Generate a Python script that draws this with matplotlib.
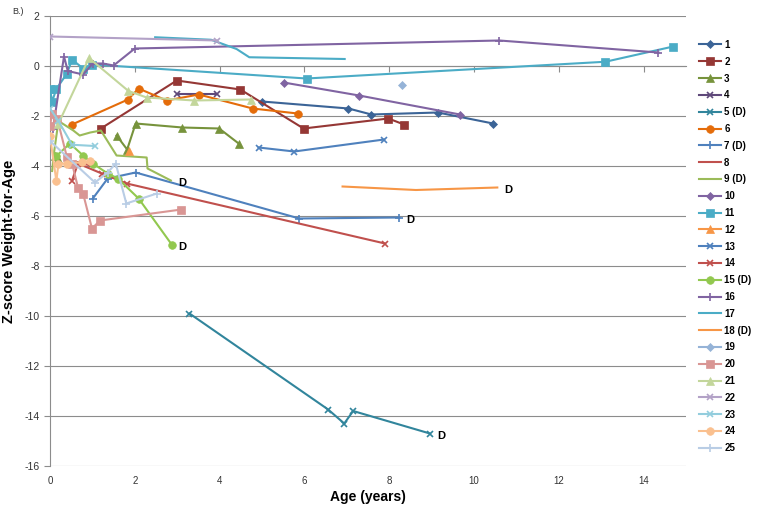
import numpy as np
import matplotlib.pyplot as plt

plt.rcParams['font.family'] = ['Liberation Sans', 'DejaVu Sans']
plt.rcParams['axes.unicode_minus'] = False

nan = np.nan

# age (years) and z-score weight-for-age, one pair of lists per child
age_1 = [5.0, 7.04, 7.58, 9.15, 10.45]
z_1 = [-1.42, -1.7, -1.94, -1.86, -2.3]
age_2 = [1.2, 2.99, 4.49, 5.98, 7.98, 8.35]
z_2 = [-2.5, -0.58, -0.94, -2.5, -2.1, -2.34]
age_3 = [0.12, 0.18, nan, 1.57, 1.82, 2.02, 3.12, 3.99, 4.45]
z_3 = [-3.6, -3.7, nan, -2.78, -3.34, -2.3, -2.46, -2.5, -3.1]
age_4 = [2.99, 3.95]
z_4 = [-1.1, -1.1]
age_5 = [3.29, 6.56, 6.94, 7.15, 8.96]
z_5 = [-9.9, -13.74, -14.3, -13.8, -14.7]
age_6 = [0.52, 1.84, 2.09, 2.75, 3.51, 4.78, 5.84]
z_6 = [-2.34, -1.34, -0.9, -1.38, -1.14, -1.7, -1.9]
age_7 = [1.01, 1.36, 2.02, 5.88, 8.24]
z_7 = [-5.3, -4.5, -4.26, -6.1, -6.06]
age_8 = [0.55, 0.66, 1.0]
z_8 = [-3.95, -3.85, -4.0]
age_9 = [0.05, 0.1, 0.2, 0.55, 0.7, 0.95, 1.2, 1.57, 2.28, 2.3, 2.85]
z_9 = [-4.2, -3.4, -2.2, -2.58, -2.78, -2.66, -2.58, -3.58, -3.66, -4.1, -4.58]
age_10 = [5.51, 7.29, 9.67]
z_10 = [-0.66, -1.18, -1.94]
age_11 = [0.0, 0.05, 0.15, 0.4, 0.52, 0.78, 0.99, 6.05, 13.1, 14.7]
z_11 = [-0.92, -1.42, -0.92, -0.3, 0.26, -0.1, 0.06, -0.5, 0.17, 0.78]
age_12 = [1.86]
z_12 = [-3.4]
age_13 = [4.92, 5.76, 7.88]
z_13 = [-3.26, -3.42, -2.94]
age_14 = [0.52, 0.66, 1.22, 1.81, 7.9]
z_14 = [-4.58, -3.9, -4.3, -4.7, -7.1]
age_15 = [0.15, 0.47, 0.78, 1.01, 1.36, 1.6, 2.09, 2.87]
z_15 = [-3.6, -3.1, -3.58, -3.9, -4.3, -4.5, -5.3, -7.14]
age_16 = [0.07, 0.33, 0.42, 0.78, 1.01, 1.25, 1.5, 2.0, 10.6, 14.35]
z_16 = [-2.5, 0.38, -0.2, -0.34, 0.1, 0.1, 0.02, 0.7, 1.02, 0.54]
age_17 = [2.48, 3.8, 4.4, 4.7, 6.95]
z_17 = [1.15, 1.05, 0.68, 0.35, 0.28]
age_18 = [6.9, 8.63, 10.55]
z_18 = [-4.82, -4.96, -4.86]
age_19 = [8.3]
z_19 = [-0.74]
age_20 = [0.0, 0.05, 0.17, 0.4, 0.52, 0.66, 0.78, 0.99, 1.18, 3.1]
z_20 = [-2.4, -1.9, -2.1, -3.65, -3.9, -4.86, -5.1, -6.5, -6.18, -5.74]
age_21 = [0.2, 0.92, 1.85, 2.28, 3.4, 4.73]
z_21 = [-2.3, 0.32, -1.0, -1.26, -1.38, -1.34]
age_22 = [0.0, 3.95]
z_22 = [1.18, 1.02]
age_23 = [0.0, 0.2, 0.52, 1.05]
z_23 = [-1.7, -2.2, -3.15, -3.2]
age_24 = [0.0, 0.15, 0.2, 0.4, 0.75, 0.95]
z_24 = [-2.8, -4.6, -3.9, -3.9, -3.85, -3.8]
age_25 = [0.0, 1.06, 1.36, 1.55, 1.8, 2.52]
z_25 = [-3.0, -4.66, -4.26, -3.9, -5.5, -5.1]

labels = ['1', '2', '3', '4', '5 (D)', '6', '7 (D)', '8', '9 (D)', '10',
          '11', '12', '13', '14', '15 (D)', '16', '17', '18 (D)', '19', '20',
          '21', '22', '23', '24', '25']
ages = [age_1, age_2, age_3, age_4, age_5, age_6, age_7, age_8, age_9, age_10,
        age_11, age_12, age_13, age_14, age_15, age_16, age_17, age_18, age_19, age_20,
        age_21, age_22, age_23, age_24, age_25]
zs = [z_1, z_2, z_3, z_4, z_5, z_6, z_7, z_8, z_9, z_10,
      z_11, z_12, z_13, z_14, z_15, z_16, z_17, z_18, z_19, z_20,
      z_21, z_22, z_23, z_24, z_25]
deceased = [5, 7, 9, 15, 18]

colors = ['#3b6497', '#953735', '#77933c', '#5f497a', '#31859c', '#e46c0a',
          '#4f81bd', '#c0504d', '#9bbb59', '#8064a2', '#4bacc6', '#f79646',
          '#4f81bd', '#c0504d', '#92c84f', '#8064a2', '#4bacc6', '#f79646',
          '#95b3d7', '#d99694', '#c3d69b', '#b3a2c7', '#93cddd', '#fac08f',
          '#b9cde5']
markers = ['D', 's', '^', 'x', 'x', 'o', '+', '_', None, 'D', 's', '^',
           'x', 'x', 'o', '+', None, None, 'D', 's', '^', 'x', 'x', 'o', '+']
msizes = {'D': 4, 's': 5.5, '^': 5.5, 'x': 5, 'o': 5.5, '+': 6, '_': 4}

fig = plt.figure(figsize=(7.62, 5.08), dpi=100, facecolor='w')
ax = fig.add_axes([50 / 762, 1 - 466 / 508, 636 / 762, 450 / 508])

for i in range(25):
    m = markers[i]
    ax.plot(ages[i], zs[i], color=colors[i], lw=1.5, marker=m,
            markersize=msizes.get(m, 0), markeredgewidth=1.2 if m in ('x', '+', '_') else 0.5,
            label=labels[i], zorder=3)
    if i + 1 in deceased:
        ax.annotate('D', (ages[i][-1], zs[i][-1]), xytext=(5, -4),
                    textcoords='offset points', fontsize=8, fontweight='bold')

ax.set_xlim(0, 15)
ax.set_ylim(-16, 2)
ax.set_xticks(np.arange(0, 15, 2))
ax.set_yticks(np.arange(-16, 3, 2))
ax.grid(True, axis='y', color='#8c8c8c', lw=0.8)
ax.set_axisbelow(True)

# x axis line crosses at zero, labels stay at the bottom
for s in ('right', 'bottom'):
    ax.spines[s].set_visible(False)
ax.spines['top'].set_position(('data', 0))
ax.spines['top'].set_color('#8c8c8c')
ax.spines['left'].set_color('#8c8c8c')
ax.tick_params(axis='x', bottom=False, top=True, labelbottom=True, labeltop=False,
               direction='in', length=4, color='#8c8c8c', labelsize=7,
               labelcolor='#333333', pad=7)
ax.tick_params(axis='y', length=4, color='#8c8c8c', labelsize=7.5, labelcolor='#333333')

ax.set_xlabel('Age (years)', fontsize=10, fontweight='bold', labelpad=3)
ax.set_ylabel('Z-score Weight-for-Age', fontsize=10.5, fontweight='bold', labelpad=6)
fig.text(12 / 762, 1 - 12 / 508, 'B.)', fontsize=6.5, va='center', color='#333333')

leg = ax.legend(loc='upper left', bbox_to_anchor=(695 / 762, 1 - 36 / 508),
                bbox_transform=fig.transFigure, frameon=False, fontsize=7,
                handlelength=2.3, labelspacing=0.7, borderaxespad=0,
                handletextpad=0.3)
for t in leg.get_texts():
    t.set_fontweight('bold')

fig.savefig('out.png', dpi=100)
